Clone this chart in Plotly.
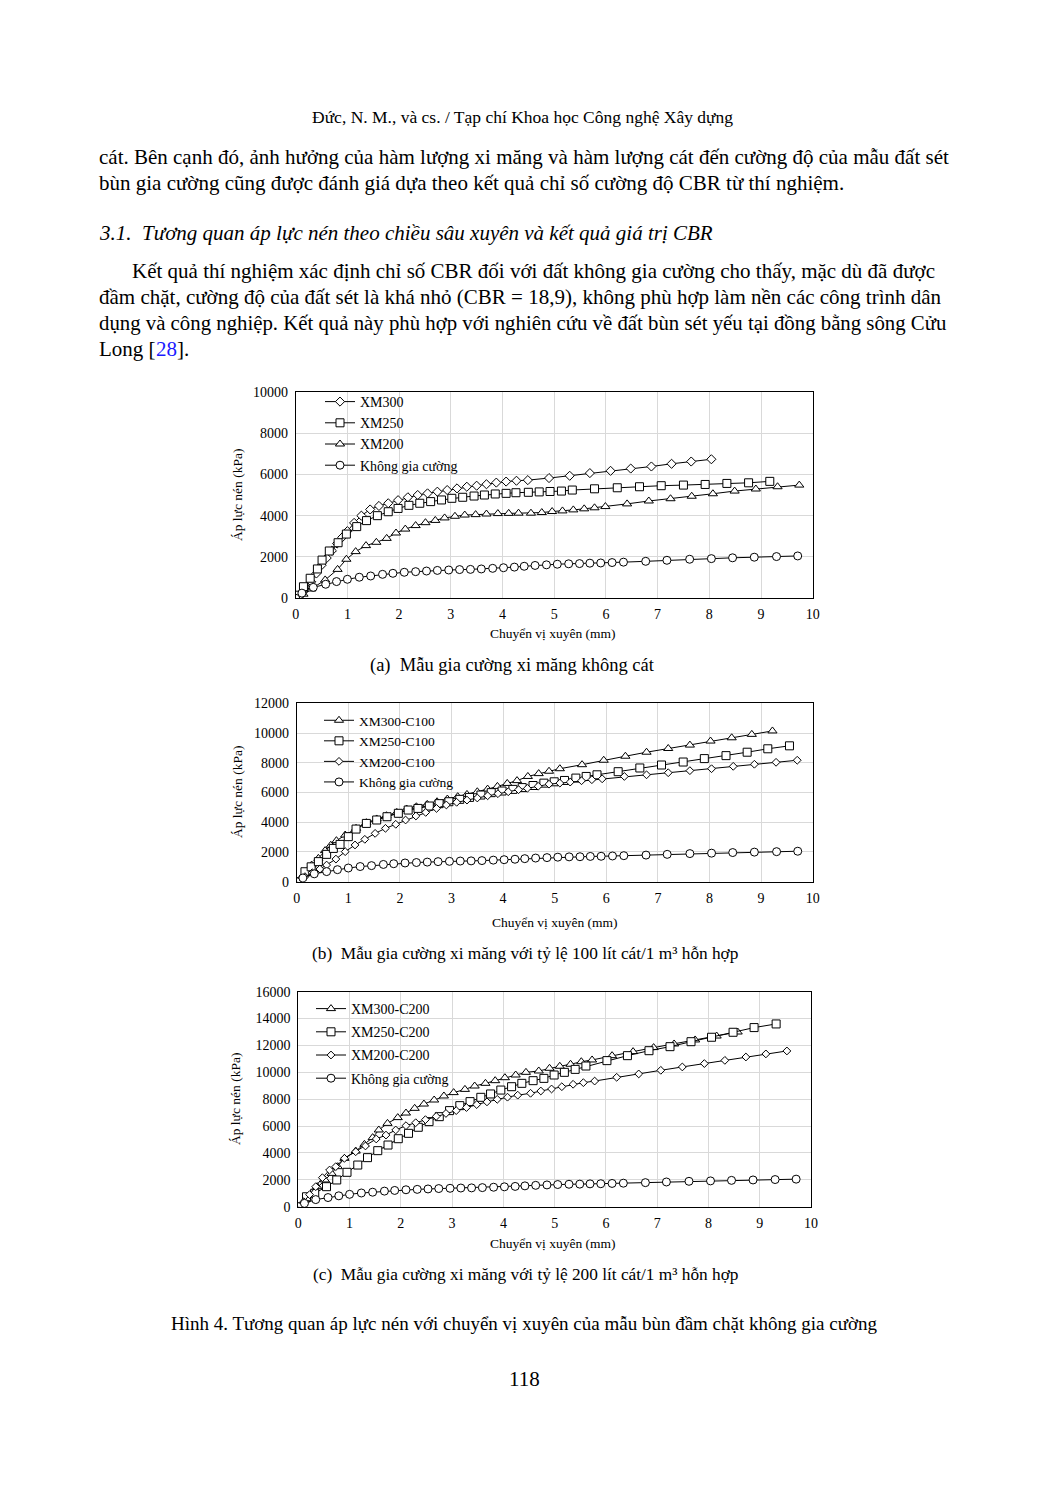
import plotly.graph_objects as go

W, H = 1047, 1488
def px(x): return x / W
def py(y): return 1 - y / H

# ---------------- DATA ----------------
# Chart (a): cement only
a_xm300_x = [0, 0.1, 0.2, 0.3, 0.4, 0.5, 0.6, 0.7, 0.8, 0.9, 1.0, 1.13, 1.27, 1.44, 1.61, 1.79, 1.98, 2.17, 2.36, 2.55,
             2.74, 2.93, 3.12, 3.31, 3.5, 3.69, 3.88, 4.07, 4.27, 4.49, 4.9, 5.3, 5.69, 6.09, 6.48, 6.88, 7.27, 7.65, 8.04]
a_xm300_y = [0, 150, 450, 800, 1200, 1600, 1950, 2300, 2650, 2950, 3250, 3650, 4000, 4300, 4470, 4600, 4750, 4890, 5000, 5080,
             5160, 5240, 5320, 5400, 5450, 5520, 5600, 5650, 5690, 5720, 5820, 5930, 6060, 6170, 6280, 6380, 6510, 6620, 6730]
a_xm250_x = [0, 0.05, 0.15, 0.28, 0.42, 0.51, 0.65, 0.82, 0.98, 1.18, 1.37, 1.58, 1.79, 1.98, 2.19, 2.40, 2.61, 2.82, 3.02, 3.23,
             3.45, 3.65, 3.86, 4.07, 4.26, 4.5, 4.71, 4.92, 5.14, 5.35, 5.78, 6.22, 6.65, 7.07, 7.5, 7.92, 8.34, 8.76, 9.17]
a_xm250_y = [0, 150, 560, 970, 1420, 1850, 2290, 2690, 3110, 3470, 3760, 4000, 4190, 4350, 4500, 4600, 4680, 4760, 4840, 4890,
             4950, 5000, 5050, 5080, 5110, 5130, 5150, 5170, 5190, 5240, 5300, 5350, 5400, 5450, 5480, 5510, 5560, 5590, 5660]
a_xm200_x = [0, 0.15, 0.3, 0.57, 0.81, 0.98, 1.16, 1.36, 1.56, 1.76, 1.94, 2.12, 2.32, 2.51, 2.7, 2.88, 3.08, 3.27, 3.48, 3.69,
             3.91, 4.12, 4.31, 4.55, 4.76, 4.96, 5.16, 5.37, 5.58, 5.78, 5.99, 6.41, 6.83, 7.25, 7.66, 8.07, 8.49, 8.9, 9.32, 9.74]
a_xm200_y = [0, 200, 450, 890, 1400, 1890, 2260, 2550, 2710, 2900, 3160, 3350, 3520, 3660, 3770, 3890, 3970, 4030, 4050, 4080,
             4100, 4110, 4120, 4120, 4150, 4200, 4230, 4280, 4330, 4380, 4440, 4570, 4710, 4820, 4940, 5060, 5190, 5290, 5400, 5480]

# Unreinforced soil (same in all three charts)
kgc_x = [0, 0.12, 0.34, 0.58, 0.79, 1.0, 1.23, 1.45, 1.68, 1.88, 2.1, 2.32, 2.53, 2.74, 2.96, 3.17, 3.38, 3.59, 3.81, 4.02,
         4.23, 4.42, 4.63, 4.85, 5.06, 5.28, 5.49, 5.69, 5.9, 6.12, 6.34, 6.77, 7.18, 7.62, 8.04, 8.45, 8.87, 9.3, 9.71]
kgc_y = [0, 250, 530, 680, 810, 920, 1020, 1080, 1160, 1210, 1260, 1290, 1320, 1350, 1370, 1390, 1400, 1420, 1450, 1480,
         1510, 1550, 1590, 1620, 1650, 1670, 1680, 1700, 1710, 1730, 1750, 1790, 1840, 1890, 1920, 1960, 1990, 2020, 2050]

# Chart (b): 100 L sand
b_xm300_x = [0, 0.13, 0.29, 0.42, 0.55, 0.66, 0.77, 0.94, 1.15, 1.35, 1.55, 1.74, 1.94, 2.13, 2.32, 2.53, 2.72, 2.92, 3.12, 3.3,
             3.5, 3.7, 3.89, 4.08, 4.27, 4.48, 4.69, 4.89, 5.1, 5.53, 5.95, 6.37, 6.78, 7.2, 7.62, 8.02, 8.43, 8.82, 9.22]
b_xm300_y = [0, 450, 1120, 1570, 2090, 2450, 2760, 3140, 3590, 3970, 4220, 4440, 4660, 4890, 5040, 5200, 5380, 5560, 5720, 5870,
             6050, 6230, 6410, 6610, 6800, 7080, 7270, 7430, 7600, 7870, 8170, 8440, 8710, 8960, 9190, 9460, 9680, 9910, 10140]
b_xm250_x = [0, 0.16, 0.28, 0.42, 0.58, 0.71, 0.84, 1.0, 1.15, 1.35, 1.55, 1.75, 1.97, 2.16, 2.35, 2.57, 2.76, 2.95, 3.16, 3.35,
             3.57, 3.77, 3.98, 4.19, 4.37, 4.58, 4.79, 4.99, 5.19, 5.41, 5.61, 5.82, 6.23, 6.65, 7.07, 7.49, 7.9, 8.32, 8.73, 9.13, 9.55]
b_xm250_y = [0, 670, 1000, 1350, 1840, 2240, 2510, 3030, 3540, 3920, 4150, 4370, 4600, 4820, 4930, 5090, 5250, 5380, 5540, 5670,
             5830, 5990, 6100, 6210, 6330, 6470, 6630, 6720, 6810, 6970, 7080, 7190, 7400, 7650, 7850, 8050, 8280, 8480, 8710, 8940, 9140]
b_xm200_x = [0, 0.16, 0.3, 0.45, 0.58, 0.76, 0.94, 1.13, 1.32, 1.52, 1.72, 1.92, 2.11, 2.31, 2.5, 2.71, 2.9, 3.1, 3.3, 3.5,
             3.7, 3.9, 4.1, 4.3, 4.47, 4.68, 4.89, 5.1, 5.3, 5.52, 5.72, 5.92, 6.35, 6.78, 7.2, 7.62, 8.04, 8.46, 8.87, 9.29, 9.7]
b_xm200_y = [0, 340, 600, 850, 1120, 1520, 2020, 2470, 2850, 3250, 3590, 3860, 4150, 4420, 4660, 4930, 5160, 5340, 5490, 5630,
             5780, 5920, 6050, 6190, 6280, 6420, 6560, 6630, 6700, 6790, 6860, 6920, 7080, 7190, 7330, 7470, 7600, 7760, 7900, 8030, 8170]

# Chart (c): 200 L sand
c_xm300_x = [0, 0.13, 0.26, 0.37, 0.52, 0.65, 0.77, 0.9, 1.12, 1.29, 1.45, 1.57, 1.74, 1.94, 2.1, 2.27, 2.45, 2.65, 2.84, 3.03,
             3.25, 3.44, 3.65, 3.84, 4.03, 4.24, 4.44, 4.69, 4.9, 5.1, 5.31, 5.52, 5.73, 6.12, 6.53, 6.93, 7.33, 7.74, 8.16, 8.57]
c_xm300_y = [0, 500, 990, 1490, 1990, 2480, 2980, 3600, 4140, 4640, 5140, 5710, 6200, 6630, 6970, 7320, 7640, 7940, 8240, 8490,
             8730, 8980, 9180, 9380, 9600, 9800, 10000, 10100, 10300, 10450, 10600, 10790, 10920, 11240, 11540, 11840, 12110, 12410, 12700, 13000]
c_xm250_x = [0, 0.16, 0.32, 0.55, 0.75, 0.95, 1.16, 1.35, 1.55, 1.75, 1.95, 2.15, 2.34, 2.55, 2.75, 2.95, 3.15, 3.35, 3.56, 3.75,
             3.95, 4.16, 4.36, 4.58, 4.79, 4.99, 5.19, 5.4, 5.61, 6.02, 6.42, 6.84, 7.25, 7.66, 8.06, 8.48, 8.89, 9.32]
c_xm250_y = [0, 740, 1000, 1490, 1990, 2560, 3100, 3650, 4170, 4590, 5060, 5460, 5910, 6330, 6700, 7150, 7520, 7820, 8140, 8390,
             8680, 8930, 9180, 9380, 9550, 9800, 10000, 10220, 10470, 10870, 11240, 11610, 11910, 12280, 12610, 12980, 13330, 13600]
c_xm200_x = [0, 0.11, 0.22, 0.34, 0.47, 0.61, 0.73, 0.9, 1.12, 1.31, 1.52, 1.71, 1.9, 2.1, 2.29, 2.48, 2.69, 2.88, 3.08, 3.28,
             3.48, 3.68, 3.88, 4.08, 4.28, 4.53, 4.73, 4.94, 5.14, 5.36, 5.56, 5.78, 6.21, 6.64, 7.07, 7.49, 7.92, 8.32, 8.73, 9.12, 9.53]
c_xm200_y = [0, 370, 900, 1490, 2160, 2730, 2980, 3600, 4090, 4520, 5040, 5330, 5710, 6030, 6250, 6480, 6720, 6940, 7150, 7380,
             7600, 7800, 7990, 8150, 8300, 8440, 8610, 8760, 8930, 9110, 9230, 9350, 9630, 9880, 10150, 10400, 10650, 10890, 11140, 11370, 11590]

x_ticks = [0, 1, 2, 3, 4, 5, 6, 7, 8, 9, 10]
y_ranges = [10000, 12000, 16000]

# ---------------- FIGURE ----------------
FONT = "Liberation Serif"
fig = go.Figure()

def add(x, y, name, sym, size, ax, leg, grp):
    fig.add_trace(go.Scatter(
        x=x, y=y, name=name, mode="lines+markers",
        line=dict(color="black", width=1),
        marker=dict(symbol=sym, size=size, color="white", line=dict(color="black", width=1)),
        xaxis="x" + ax, yaxis="y" + ax, legend=leg, legendgroup=grp))

add(a_xm300_x, a_xm300_y, "XM300", "diamond", 7, "", "legend", "a1")
add(a_xm250_x, a_xm250_y, "XM250", "square", 8, "", "legend", "a2")
add(a_xm200_x, a_xm200_y, "XM200", "triangle-up", 8, "", "legend", "a3")
add(kgc_x, kgc_y, "Không gia cường", "circle", 8, "", "legend", "a4")

add(b_xm300_x, b_xm300_y, "XM300-C100", "triangle-up", 8, "2", "legend2", "b1")
add(b_xm250_x, b_xm250_y, "XM250-C100", "square", 8, "2", "legend2", "b2")
add(b_xm200_x, b_xm200_y, "XM200-C100", "diamond", 6, "2", "legend2", "b3")
add(kgc_x, kgc_y, "Không gia cường", "circle", 8, "2", "legend2", "b4")

add(c_xm300_x, c_xm300_y, "XM300-C200", "triangle-up", 8, "3", "legend3", "c1")
add(c_xm250_x, c_xm250_y, "XM250-C200", "square", 8, "3", "legend3", "c2")
add(c_xm200_x, c_xm200_y, "XM200-C200", "diamond", 6, "3", "legend3", "c3")
add(kgc_x, kgc_y, "Không gia cường", "circle", 8, "3", "legend3", "c4")

# plot areas (pixels): left, right, top, bottom
areas = [(295.7, 812.7, 391.7, 598.3), (296.7, 812.7, 703.3, 881.7), (298.3, 811.0, 991.7, 1206.7)]

layout = dict(
    width=W, height=H, margin=dict(l=0, r=0, t=0, b=0),
    paper_bgcolor="white", plot_bgcolor="white",
    font=dict(family=FONT, color="black", size=12),
    showlegend=True,
)
for i, (l, r, t, b) in enumerate(areas):
    s = "" if i == 0 else str(i + 1)
    layout["xaxis" + s] = dict(
        domain=[px(l), px(r)], anchor="y" + s, range=[0, 10], tickvals=x_ticks,
        showgrid=True, gridcolor="#d9d9d9", gridwidth=1, zeroline=False,
        showline=True, linecolor="black", linewidth=1, mirror=True,
        ticks="", ticklabelstandoff=3,
        tickfont=dict(family=FONT, size=14, color="black"), automargin=False)
    ymax = y_ranges[i]
    layout["yaxis" + s] = dict(
        domain=[py(b), py(t)], anchor="x" + s, range=[0, ymax], dtick=2000,
        exponentformat="none", separatethousands=False, tickformat="d",
        showgrid=True, gridcolor="#d9d9d9", gridwidth=1, zeroline=False,
        showline=True, linecolor="black", linewidth=1, mirror=True,
        ticks="", ticklabelstandoff=4,
        tickfont=dict(family=FONT, size=14, color="black"), automargin=False)

leg_pos = [(320, 386), (319, 705), (311, 993)]
leg_font = [14, 13.5, 14]
leg_gap = [0, 0, 2]
for i, (lx, ly) in enumerate(leg_pos):
    key = "legend" if i == 0 else "legend" + str(i + 1)
    layout[key] = dict(x=px(lx), y=py(ly), xanchor="left", yanchor="top",
                       bgcolor="rgba(0,0,0,0)", borderwidth=0,
                       font=dict(family=FONT, size=leg_font[i], color="black"),
                       tracegroupgap=leg_gap[i], itemclick=False)
fig.update_layout(**layout)

def text(x, y, s, size=17, anchor="left", italic=False, angle=0, color="black"):
    fig.add_annotation(x=px(x), y=py(y), xref="paper", yref="paper", text=s, showarrow=False,
                       xanchor=anchor, yanchor="middle", textangle=angle,
                       font=dict(family=FONT, size=size, color=color,
                                 style="italic" if italic else "normal"))

BODY = 21
text(522, 117, "Đức, N. M., và cs. / Tạp chí Khoa học Công nghệ Xây dựng", 17.5, "center")
text(97, 157, "cát. Bên cạnh đó, ảnh hưởng của hàm lượng xi măng và hàm lượng cát đến cường độ của mẫu đất sét", BODY)
text(97, 183, "bùn gia cường cũng được đánh giá dựa theo kết quả chỉ số cường độ CBR từ thí nghiệm.", BODY)
text(97, 233, "3.1.  Tương quan áp lực nén theo chiều sâu xuyên và kết quả giá trị CBR", BODY, italic=True)
text(130, 271, "Kết quả thí nghiệm xác định chỉ số CBR đối với đất không gia cường cho thấy, mặc dù đã được", BODY)
text(97, 297, "đầm chặt, cường độ của đất sét là khá nhỏ (CBR = 18,9), không phù hợp làm nền các công trình dân", BODY)
text(97, 323, "dụng và công nghiệp. Kết quả này phù hợp với nghiên cứu về đất bùn sét yếu tại đồng bằng sông Cửu", 20.8)
text(97, 349, "Long [", BODY)
text(153.5, 349, "28", BODY, color="#1a1aff")
text(174.5, 349, "].", BODY)

# axis titles
text(553, 634, "Chuyển vị xuyên (mm)", 13.5, "center")
text(237, 495, "Áp lực nén (kPa)", 13.5, "center", angle=-90)
text(555, 922, "Chuyển vị xuyên (mm)", 13.5, "center")
text(237, 792, "Áp lực nén (kPa)", 13.5, "center", angle=-90)
text(553, 1243, "Chuyển vị xuyên (mm)", 13.5, "center")
text(235, 1099, "Áp lực nén (kPa)", 13.5, "center", angle=-90)

# captions
text(512, 665, "(a)  Mẫu gia cường xi măng không cát", 18.5, "center")
text(525, 953, "(b)  Mẫu gia cường xi măng với tỷ lệ 100 lít cát/1 m³ hỗn hợp", 17.3, "center")
text(525, 1274, "(c)  Mẫu gia cường xi măng với tỷ lệ 200 lít cát/1 m³ hỗn hợp", 17.3, "center")
text(524, 1323, "Hình 4. Tương quan áp lực nén với chuyển vị xuyên của mẫu bùn đầm chặt không gia cường", 19, "center")
text(524, 1379, "118", 21, "center")

fig.write_html("out.html")
